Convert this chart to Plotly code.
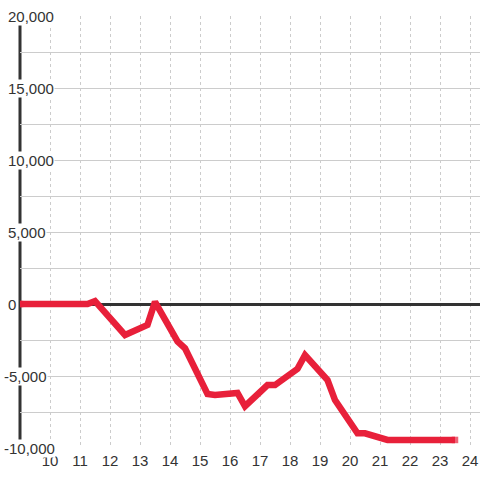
import plotly.graph_objects as go

# ---- data ----
hours = [9, 11.25, 11.5, 12.25, 12.5, 13.25, 13.5, 14.25, 14.5, 15.25, 15.5,
         16.25, 16.5, 17.25, 17.5, 18.25, 18.5, 19.25, 19.5, 20.25, 20.5,
         21.25, 23.5]
values = [0, 0, 200, -1550, -2150, -1450, 150, -2600, -3080, -6250, -6320,
          -6180, -7100, -5630, -5630, -4500, -3550, -5280, -6670, -8980, -8980,
          -9440, -9440]

x_tick_vals = [10, 11, 12, 13, 14, 15, 16, 17, 18, 19, 20, 21, 22, 23, 24]
x_tick_text = ["10", "11", "12", "13", "14", "15", "16", "17", "18", "19",
               "20", "21", "22", "23", "24"]
y_tick_vals = [20000, 15000, 10000, 5000, 0, -5000, -10000]
y_tick_text = ["20,000", "15,000", "10,000", "5,000", "0", "-5,000", "-10,000"]
y_grid_step = 2500

# ---- style ----
RED = "#e8203a"
DARK = "#333333"
GRID = "#cccccc"
FONT = "Liberation Sans, Arial, sans-serif"
W, H = 480, 480
ML, MR, MT, MB = 20, 0, 16, 32
plot_w = W - ML - MR
px_per_hour = 30
x_min = 9
x_max = x_min + plot_w / px_per_hour

line_w = 6.5
cap_sizes = [line_w if i in (0, len(values) - 1) else 0 for i in range(len(values))]

fig = go.Figure()
fig.add_trace(go.Scatter(
    x=hours, y=values, mode="lines+markers",
    line=dict(color=RED, width=line_w),
    marker=dict(color=RED, size=cap_sizes, symbol="square", line=dict(width=0)),
    hoverinfo="skip", showlegend=False,
))

annotations = []
for v, t in zip(y_tick_vals, y_tick_text):
    annotations.append(dict(
        xref="paper", yref="y", x=(7 - ML) / plot_w, y=v,
        xanchor="left", yanchor="middle", text=t, showarrow=False,
        xshift=-4 if v < 0 else 0,
        bgcolor="white", borderpad=0,
        font=dict(family=FONT, size=15, color=DARK),
    ))

fig.update_layout(
    width=W, height=H,
    margin=dict(l=ML, r=MR, t=MT, b=MB, pad=0),
    paper_bgcolor="white", plot_bgcolor="white",
    showlegend=False,
    annotations=annotations,
    shapes=[dict(type="line", xref="paper", yref="paper", x0=0, x1=0,
                 y0=0, y1=1, line=dict(color=DARK, width=3), layer="below")],
    font=dict(family=FONT, size=15, color=DARK),
)
fig.update_xaxes(
    range=[x_min, x_max], tickvals=x_tick_vals, ticktext=x_tick_text,
    showgrid=True, gridcolor=GRID, gridwidth=1, griddash="dot",
    zeroline=False, showline=False, ticks="", ticklabelstandoff=2,
    tickfont=dict(family=FONT, size=15, color=DARK),
    fixedrange=True,
)
fig.update_yaxes(
    range=[y_tick_vals[-1], y_tick_vals[0]], dtick=y_grid_step, tick0=0,
    showticklabels=False, showgrid=True, gridcolor=GRID, gridwidth=1,
    zeroline=True, zerolinecolor=DARK, zerolinewidth=3,
    showline=False, ticks="", fixedrange=True,
)

fig.write_html("out.html", config={"displayModeBar": False},
               post_script="document.body.style.margin='0';document.body.style.overflow='hidden';")
